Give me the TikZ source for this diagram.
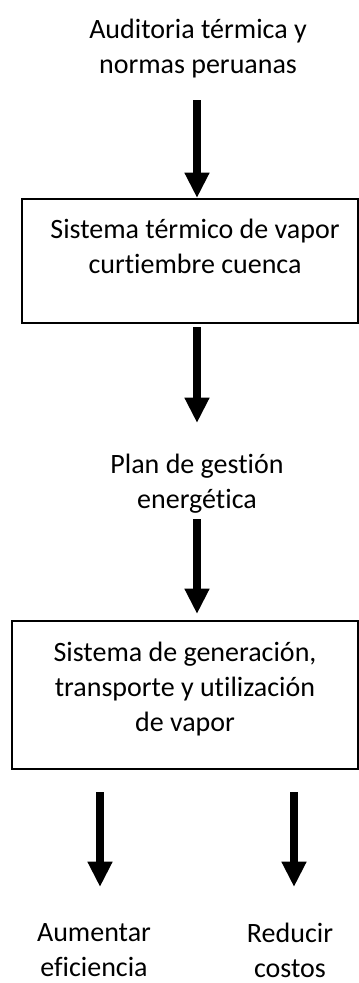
\documentclass[tikz,border=0pt]{standalone}
\usepackage{fontspec}
\setmainfont{Carlito}[Ligatures={NoCommon}]
\usetikzlibrary{arrows.meta}

\tikzset{
  txt/.style={inner sep=0.75pt, align=center, font=\fontsize{21}{26.25}\selectfont},
  boxline/.style={draw, line width=1.5pt, inner sep=0pt},
  bigarrow/.style={line width=6pt, -{Triangle[width=17.5pt,length=19pt]}}
}

\begin{document}
\begin{tikzpicture}[x=0.75pt,y=0.75pt,yscale=-1,xscale=1]
\useasboundingbox (0,0) rectangle (359,983);

%Shape: Rectangle [id:box1]
\node [boxline, minimum width=252pt, minimum height=93pt] (box1) at (190,261) {};
%Shape: Rectangle [id:box2]
\node [boxline, minimum width=259.5pt, minimum height=111pt] (box2) at (185,695) {};

% Text Node
\node [txt] (audit) at (198,48.5) {Auditoria térmica y\\normas peruanas};
% Text Node
\node [txt] (sys1) at (195,246.5) {Sistema térmico de vapor\\curtiembre cuenca};
% Text Node
\node [txt] (plan) at (197,484) {Plan de gestión\\energética};
% Text Node
\node [txt] (sys2) at (185,689) {Sistema de generación,\\transporte y utilización\\de vapor};
% Text Node
\node [txt] (aum) at (94,950) {Aumentar\\eficiencia};
% Text Node
\node [txt] (red) at (290,950) {Reducir\\costos};

%Straight Lines [arrow ends]
\coordinate (s1) at (197,100);
\coordinate (s2) at (197,327);
\coordinate (e2) at (197,423);
\coordinate (s3) at (197,519);
\coordinate (e3) at (197,614);
\coordinate (s4) at (100,792);
\coordinate (e4) at (100,887);
\coordinate (s5) at (294,792);
\coordinate (e5) at (294,887);

%Straight Lines [arrows]
\draw [bigarrow] (s1) -- (s1 |- box1.north);
\draw [bigarrow] (s2) -- (e2);
\draw [bigarrow] (s3) -- (e3);
\draw [bigarrow] (s4) -- (e4);
\draw [bigarrow] (s5) -- (e5);
\end{tikzpicture}
\end{document}
